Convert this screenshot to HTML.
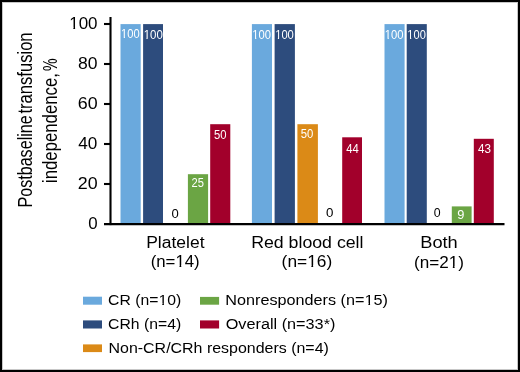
<!DOCTYPE html><html><head><meta charset="utf-8"><style>html,body{margin:0;padding:0;background:#fff;width:520px;height:372px;overflow:hidden;}svg{display:block;position:absolute;left:0;top:0;will-change:transform;}</style></head><body>
<svg width="520" height="372" viewBox="0 0 520 372">
<rect x="0" y="0" width="520" height="372" fill="#fff"/>
<rect x="120.5" y="24.1" width="20.20" height="199.90" fill="#6AA9DD"/>
<rect x="143.1" y="24.1" width="19.90" height="199.90" fill="#2D4C7D"/>
<rect x="187.9" y="174.2" width="20.20" height="49.80" fill="#6BA544"/>
<rect x="210.2" y="124.2" width="20.10" height="99.80" fill="#A2002B"/>
<rect x="251.9" y="24.1" width="20.10" height="199.90" fill="#6AA9DD"/>
<rect x="274.6" y="24.1" width="20.30" height="199.90" fill="#2D4C7D"/>
<rect x="297.4" y="124.2" width="20.50" height="99.80" fill="#DB8A17"/>
<rect x="342.2" y="137.3" width="19.80" height="86.70" fill="#A2002B"/>
<rect x="384.5" y="24.1" width="20.10" height="199.90" fill="#6AA9DD"/>
<rect x="406.7" y="24.1" width="20.10" height="199.90" fill="#2D4C7D"/>
<rect x="451.8" y="206.4" width="19.80" height="17.60" fill="#6BA544"/>
<rect x="473.8" y="138.8" width="20.00" height="85.20" fill="#A2002B"/>
<rect x="83" y="296.7" width="19.00" height="8.00" fill="#6AA9DD"/>
<rect x="83" y="320.4" width="19.00" height="8.10" fill="#2D4C7D"/>
<rect x="83" y="344.4" width="19.00" height="7.70" fill="#DB8A17"/>
<rect x="200" y="296.9" width="19.10" height="7.80" fill="#6BA544"/>
<rect x="200" y="320.4" width="19.10" height="8.10" fill="#A2002B"/>
<g stroke="#000" stroke-width="2.1" fill="none">
<line x1="110.5" y1="17" x2="110.5" y2="225.1"/>
<line x1="104" y1="224.1" x2="504.5" y2="224.1"/>
<line x1="104" y1="24" x2="110.5" y2="24"/>
<line x1="104" y1="64" x2="110.5" y2="64"/>
<line x1="104" y1="104" x2="110.5" y2="104"/>
<line x1="104" y1="144" x2="110.5" y2="144"/>
<line x1="104" y1="184" x2="110.5" y2="184"/>
</g>
<text x="69.20" y="28.68" font-family='"Liberation Sans", sans-serif' font-size="16.4" fill="#000" textLength="28.35" lengthAdjust="spacingAndGlyphs">100</text>
<text x="78.05" y="69.22" font-family='"Liberation Sans", sans-serif' font-size="16.4" fill="#000" textLength="19.53" lengthAdjust="spacingAndGlyphs">80</text>
<text x="77.85" y="109.38" font-family='"Liberation Sans", sans-serif' font-size="16.4" fill="#000" textLength="19.87" lengthAdjust="spacingAndGlyphs">60</text>
<text x="78.24" y="149.46" font-family='"Liberation Sans", sans-serif' font-size="16.4" fill="#000" textLength="19.10" lengthAdjust="spacingAndGlyphs">40</text>
<text x="77.83" y="188.98" font-family='"Liberation Sans", sans-serif' font-size="16.4" fill="#000" textLength="19.86" lengthAdjust="spacingAndGlyphs">20</text>
<text x="88.30" y="228.98" font-family='"Liberation Sans", sans-serif' font-size="16.4" fill="#000" textLength="9.39" lengthAdjust="spacingAndGlyphs">0</text>
<text x="121.04" y="38.30" font-family='"Liberation Sans", sans-serif' font-size="12.3" fill="#fff" textLength="18.65" lengthAdjust="spacingAndGlyphs">100</text>
<text x="143.65" y="38.70" font-family='"Liberation Sans", sans-serif' font-size="12.3" fill="#fff" textLength="19.18" lengthAdjust="spacingAndGlyphs">100</text>
<text x="171.60" y="217.50" font-family='"Liberation Sans", sans-serif' font-size="12.3" fill="#000" textLength="7.25" lengthAdjust="spacingAndGlyphs">0</text>
<text x="191.56" y="187.26" font-family='"Liberation Sans", sans-serif' font-size="12.3" fill="#fff" textLength="12.41" lengthAdjust="spacingAndGlyphs">25</text>
<text x="213.96" y="138.56" font-family='"Liberation Sans", sans-serif' font-size="12.3" fill="#fff" textLength="12.52" lengthAdjust="spacingAndGlyphs">50</text>
<text x="252.36" y="39.20" font-family='"Liberation Sans", sans-serif' font-size="12.3" fill="#fff" textLength="18.66" lengthAdjust="spacingAndGlyphs">100</text>
<text x="275.15" y="38.56" font-family='"Liberation Sans", sans-serif' font-size="12.3" fill="#fff" textLength="18.73" lengthAdjust="spacingAndGlyphs">100</text>
<text x="300.81" y="137.66" font-family='"Liberation Sans", sans-serif' font-size="12.3" fill="#fff" textLength="12.61" lengthAdjust="spacingAndGlyphs">50</text>
<text x="325.95" y="217.10" font-family='"Liberation Sans", sans-serif' font-size="12.3" fill="#000" textLength="7.41" lengthAdjust="spacingAndGlyphs">0</text>
<text x="346.28" y="152.50" font-family='"Liberation Sans", sans-serif' font-size="12.3" fill="#fff" textLength="12.50" lengthAdjust="spacingAndGlyphs">44</text>
<text x="384.85" y="38.66" font-family='"Liberation Sans", sans-serif' font-size="12.3" fill="#fff" textLength="18.79" lengthAdjust="spacingAndGlyphs">100</text>
<text x="407.37" y="38.50" font-family='"Liberation Sans", sans-serif' font-size="12.3" fill="#fff" textLength="18.43" lengthAdjust="spacingAndGlyphs">100</text>
<text x="433.77" y="217.46" font-family='"Liberation Sans", sans-serif' font-size="12.3" fill="#000" textLength="6.86" lengthAdjust="spacingAndGlyphs">0</text>
<text x="457.18" y="218.82" font-family='"Liberation Sans", sans-serif' font-size="12.3" fill="#fff" textLength="7.13" lengthAdjust="spacingAndGlyphs">9</text>
<text x="478.07" y="153.46" font-family='"Liberation Sans", sans-serif' font-size="12.3" fill="#fff" textLength="13.02" lengthAdjust="spacingAndGlyphs">43</text>
<text x="146.23" y="247.58" font-family='"Liberation Sans", sans-serif' font-size="15.8" fill="#000" textLength="58.30" lengthAdjust="spacingAndGlyphs">Platelet</text>
<text x="150.68" y="267.24" font-family='"Liberation Sans", sans-serif' font-size="15.8" fill="#000" textLength="49.01" lengthAdjust="spacingAndGlyphs">(n=14)</text>
<text x="251.18" y="247.76" font-family='"Liberation Sans", sans-serif' font-size="15.8" fill="#000" textLength="112.31" lengthAdjust="spacingAndGlyphs">Red blood cell</text>
<text x="281.62" y="267.20" font-family='"Liberation Sans", sans-serif' font-size="15.8" fill="#000" textLength="50.57" lengthAdjust="spacingAndGlyphs">(n=16)</text>
<text x="420.28" y="247.50" font-family='"Liberation Sans", sans-serif' font-size="15.8" fill="#000" textLength="37.50" lengthAdjust="spacingAndGlyphs">Both</text>
<text x="414.00" y="267.96" font-family='"Liberation Sans", sans-serif' font-size="15.8" fill="#000" textLength="49.87" lengthAdjust="spacingAndGlyphs">(n=21)</text>
<text x="108.13" y="305.04" font-family='"Liberation Sans", sans-serif' font-size="15.5" fill="#000" textLength="73.08" lengthAdjust="spacingAndGlyphs">CR (n=10)</text>
<text x="108.13" y="329.16" font-family='"Liberation Sans", sans-serif' font-size="15.5" fill="#000" textLength="73.08" lengthAdjust="spacingAndGlyphs">CRh (n=4)</text>
<text x="108.53" y="352.50" font-family='"Liberation Sans", sans-serif' font-size="15.5" fill="#000" textLength="220.35" lengthAdjust="spacingAndGlyphs">Non-CR/CRh responders (n=4)</text>
<text x="225.29" y="305.04" font-family='"Liberation Sans", sans-serif' font-size="15.5" fill="#000" textLength="162.58" lengthAdjust="spacingAndGlyphs">Nonresponders (n=15)</text>
<text x="225.74" y="329.32" font-family='"Liberation Sans", sans-serif' font-size="15.5" fill="#000" textLength="109.62" lengthAdjust="spacingAndGlyphs">Overall (n=33*)</text>
<text transform="translate(32.30,207.58) rotate(-90)" x="0" y="0" font-family='"Liberation Sans", sans-serif' font-size="19.6" fill="#000" textLength="92.33" lengthAdjust="spacingAndGlyphs">Postbaseline</text>
<text transform="translate(32.30,113.54) rotate(-90)" x="0" y="0" font-family='"Liberation Sans", sans-serif' font-size="19.6" fill="#000" textLength="81.13" lengthAdjust="spacingAndGlyphs">transfusion</text>
<text transform="translate(57.00,183.01) rotate(-90)" x="0" y="0" font-family='"Liberation Sans", sans-serif' font-size="19.6" fill="#000" textLength="109.92" lengthAdjust="spacingAndGlyphs">independence,</text>
<text transform="translate(57.00,70.90) rotate(-90)" x="0" y="0" font-family='"Liberation Sans", sans-serif' font-size="19.6" fill="#000" textLength="12.66" lengthAdjust="spacingAndGlyphs">%</text>
<rect x="70.00" y="27" width="3.35" height="2" fill="#fff"/>
<rect x="75.10" y="27" width="2.90" height="2" fill="#fff"/>
<rect x="121.04" y="37" width="2.73" height="1" fill="#6AA9DD"/>
<rect x="124.92" y="37" width="2.08" height="1" fill="#6AA9DD"/>
<rect x="144.00" y="38" width="2.46" height="1" fill="#2D4C7D"/>
<rect x="147.64" y="38" width="2.36" height="1" fill="#2D4C7D"/>
<rect x="253.00" y="38" width="2.09" height="1" fill="#6AA9DD"/>
<rect x="256.24" y="38" width="2.34" height="1" fill="#6AA9DD"/>
<rect x="275.15" y="38" width="2.74" height="1" fill="#2D4C7D"/>
<rect x="279.05" y="38" width="1.95" height="1" fill="#2D4C7D"/>
<rect x="385.00" y="38" width="2.60" height="1" fill="#6AA9DD"/>
<rect x="388.76" y="38" width="2.24" height="1" fill="#6AA9DD"/>
<rect x="408.00" y="38" width="2.07" height="1" fill="#2D4C7D"/>
<rect x="411.20" y="38" width="2.31" height="1" fill="#2D4C7D"/>
<rect x="176.00" y="265" width="3.51" height="2" fill="#fff"/>
<rect x="181.25" y="265" width="3.51" height="2" fill="#fff"/>
<rect x="308.00" y="265" width="3.37" height="2" fill="#fff"/>
<rect x="313.16" y="265" width="3.63" height="2" fill="#fff"/>
<rect x="449.00" y="266" width="3.84" height="2" fill="#fff"/>
<rect x="454.60" y="266" width="3.40" height="2" fill="#fff"/>
<rect x="159.00" y="303" width="3.29" height="2" fill="#fff"/>
<rect x="163.91" y="303" width="3.09" height="2" fill="#fff"/>
<rect x="365.00" y="303" width="3.40" height="2" fill="#fff"/>
<rect x="370.07" y="303" width="2.93" height="2" fill="#fff"/>
</svg>
<div style="position:absolute;left:0;top:0;width:516px;height:368px;border:2px solid #000;box-shadow:inset 0 0 0 1px rgba(0,0,0,0.22);"></div>
</body></html>
